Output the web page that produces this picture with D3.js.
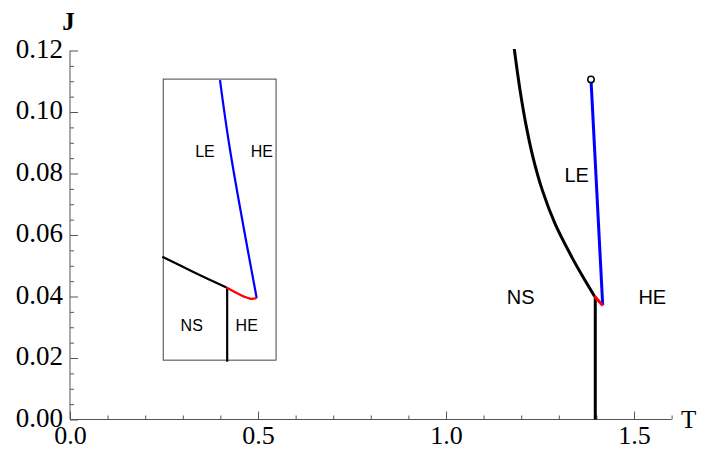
<!DOCTYPE html>
<html>
<head>
<meta charset="utf-8">
<script src="https://cdn.jsdelivr.net/npm/d3@7"></script>
<style>
  html, body { margin: 0; padding: 0; background: #fff; }
  svg { display: block; }
</style>
</head>
<body>
<svg id="chart" width="705" height="450"></svg>
<script>
// Axis ticks
const tMajorTicks = [0, 0.5, 1.0, 1.5];
const tMinorTicks = [0.1, 0.2, 0.3, 0.4, 0.6, 0.7, 0.8, 0.9, 1.1, 1.2, 1.3, 1.4, 1.6];
const jMajorTicks = [0, 0.02, 0.04, 0.06, 0.08, 0.10, 0.12];
const jMinorTicks = [0.005, 0.01, 0.015, 0.025, 0.03, 0.035, 0.045, 0.05, 0.055,
                     0.065, 0.07, 0.075, 0.085, 0.09, 0.095, 0.105, 0.11, 0.115];

// Main diagram: NS / LE boundary (black curve)
const nsLeT = [1.1793, 1.1817, 1.1968, 1.2120, 1.2307, 1.2561, 1.2896, 1.3343, 1.3637, 1.395];
const nsLeJ = [0.1228, 0.1204, 0.1072, 0.0963, 0.0856, 0.0746, 0.0638, 0.0529, 0.0465, 0.0401];
// NS / HE boundary (vertical black line)
const nsHeT = [1.397, 1.397];
const nsHeJ = [0.0401, 0.0];
// LE / HE boundary (blue line), ending at the critical point
const leHeT = [1.3856, 1.4168];
const leHeJ = [0.1106, 0.0371];
// Short red segment joining the boundaries
const redT = [1.395, 1.4168];
const redJ = [0.0401, 0.0371];
// Critical point (open circle)
const critT = [1.3856];
const critJ = [0.1106];

// Inset frame (drawn in the same T-J coordinates)
const insetT = [0.248, 0.548];
const insetJ = [0.0193, 0.1107];
// Inset curves
const inNsLeT = [0.2455, 0.328, 0.4162];
const inNsLeJ = [0.0529, 0.0480, 0.0429];
const inNsHeT = [0.418, 0.418];
const inNsHeJ = [0.0429, 0.0188];
const inLeHeT = [0.3989, 0.4260, 0.4965];
const inLeHeJ = [0.1104, 0.0874, 0.0395];
const inRedT = [0.4162, 0.4787, 0.4965];
const inRedJ = [0.0429, 0.0393, 0.0395];

// Phase labels
const phaseLabels = ["LE", "NS", "HE"];
const phaseT = [1.3476, 1.1987, 1.5487];
const phaseJ = [0.0797, 0.0399, 0.0399];
const insetLabels = ["LE", "HE", "NS", "HE"];
const insetLabelT = [0.359, 0.510, 0.3237, 0.470];
const insetLabelJ = [0.0874, 0.0874, 0.0305, 0.0305];

const svg = d3.select("#chart");
const x = d3.scaleLinear().domain([0, 1.6]).range([70, 671.6]);
const y = d3.scaleLinear().domain([0, 0.12]).range([419.5, 50.5]);

const serif = "'Liberation Serif', 'Times New Roman', serif";
const sans = "'Liberation Sans', Arial, sans-serif";
const axisColor = "#555";

// Plot clip
svg.append("defs").append("clipPath").attr("id", "plotclip")
  .append("rect").attr("x", 70).attr("y", 49).attr("width", 602).attr("height", 372);

// Axes: minor ticks
const gxMinor = svg.append("g").attr("transform", `translate(0,${y(0)})`)
  .call(d3.axisBottom(x).tickValues(tMinorTicks).tickSize(-4).tickFormat(""));
const gyMinor = svg.append("g").attr("transform", `translate(${x(0)},0)`)
  .call(d3.axisLeft(y).tickValues(jMinorTicks).tickSize(-4).tickFormat(""));
// Axes: major ticks with labels
const gx = svg.append("g").attr("transform", `translate(0,${y(0)})`)
  .call(d3.axisBottom(x).tickValues(tMajorTicks).tickSize(-8).tickPadding(6)
    .tickFormat(d3.format(".1f")));
const gy = svg.append("g").attr("transform", `translate(${x(0)},0)`)
  .call(d3.axisLeft(y).tickValues(jMajorTicks).tickSize(-8).tickPadding(7)
    .tickFormat(d3.format(".2f")));

[gxMinor, gyMinor, gx, gy].forEach(g => {
  g.select(".domain").remove();
  g.selectAll(".tick line").attr("stroke", axisColor).attr("stroke-width", 1);
  g.selectAll(".tick text").attr("fill", "#000")
    .style("font-family", serif).style("font-size", "27px");
});
gx.selectAll(".tick text").style("font-size", "26px");
gy.selectAll(".tick text").attr("dy", "0.25em");

// Axis lines
svg.append("line").attr("x1", x(0)).attr("x2", x(1.6)).attr("y1", y(0)).attr("y2", y(0))
  .attr("stroke", axisColor).attr("stroke-width", 1);
svg.append("line").attr("x1", x(0)).attr("x2", x(0)).attr("y1", y(0)).attr("y2", y(0.12))
  .attr("stroke", axisColor).attr("stroke-width", 1);

// Axis titles
svg.append("text").attr("x", 68.5).attr("y", 30).attr("text-anchor", "middle")
  .style("font-family", serif).style("font-size", "25px").style("font-weight", "bold")
  .text("J");
svg.append("text").attr("x", 681).attr("y", 428)
  .style("font-family", serif).style("font-size", "25px")
  .text("T");

const line = d3.line().x(d => x(d[0])).y(d => y(d[1]));
const smooth = d3.line().x(d => x(d[0])).y(d => y(d[1])).curve(d3.curveCatmullRom.alpha(0.5));
const zip = (a, b) => a.map((v, i) => [v, b[i]]);

const plot = svg.append("g").attr("clip-path", "url(#plotclip)");

// Inset frame
plot.append("rect")
  .attr("x", x(insetT[0])).attr("y", y(insetJ[1]))
  .attr("width", x(insetT[1]) - x(insetT[0]))
  .attr("height", y(insetJ[0]) - y(insetJ[1]))
  .attr("fill", "none").attr("stroke", "#444").attr("stroke-width", 1);

// Inset curves
plot.append("path").attr("d", smooth(zip(inNsLeT, inNsLeJ)))
  .attr("fill", "none").attr("stroke", "#000").attr("stroke-width", 2.2);
plot.append("path").attr("d", line(zip(inNsHeT, inNsHeJ)))
  .attr("fill", "none").attr("stroke", "#000").attr("stroke-width", 2.2);
plot.append("path").attr("d", smooth(zip(inLeHeT, inLeHeJ)))
  .attr("fill", "none").attr("stroke", "#0000ff").attr("stroke-width", 2.2);
plot.append("path").attr("d", smooth(zip(inRedT, inRedJ)))
  .attr("fill", "none").attr("stroke", "#ff0000").attr("stroke-width", 2.2)
  .attr("stroke-linejoin", "round");

// Main curves
plot.append("path").attr("d", smooth(zip(nsLeT, nsLeJ)))
  .attr("fill", "none").attr("stroke", "#000").attr("stroke-width", 3);
plot.append("path").attr("d", line(zip(nsHeT, nsHeJ)))
  .attr("fill", "none").attr("stroke", "#000").attr("stroke-width", 3);
plot.append("path").attr("d", line(zip(leHeT, leHeJ)))
  .attr("fill", "none").attr("stroke", "#0000ff").attr("stroke-width", 3);
plot.append("path").attr("d", line(zip(redT, redJ)))
  .attr("fill", "none").attr("stroke", "#ff0000").attr("stroke-width", 3);
plot.selectAll("circle.crit").data(zip(critT, critJ)).enter().append("circle")
  .attr("class", "crit")
  .attr("cx", d => x(d[0])).attr("cy", d => y(d[1])).attr("r", 3.2)
  .attr("fill", "#fff").attr("stroke", "#000").attr("stroke-width", 1.5);

// Phase labels
svg.selectAll("text.phase").data(phaseLabels).enter().append("text")
  .attr("class", "phase")
  .attr("x", (d, i) => x(phaseT[i])).attr("y", (d, i) => y(phaseJ[i]))
  .attr("text-anchor", "middle").attr("dy", "0.36em")
  .style("font-family", sans).style("font-size", "20px")
  .text(d => d);
svg.selectAll("text.inset").data(insetLabels).enter().append("text")
  .attr("class", "inset")
  .attr("x", (d, i) => x(insetLabelT[i])).attr("y", (d, i) => y(insetLabelJ[i]))
  .attr("text-anchor", "middle").attr("dy", "0.36em")
  .style("font-family", sans).style("font-size", "16px")
  .text(d => d);
</script>
</body>
</html>
